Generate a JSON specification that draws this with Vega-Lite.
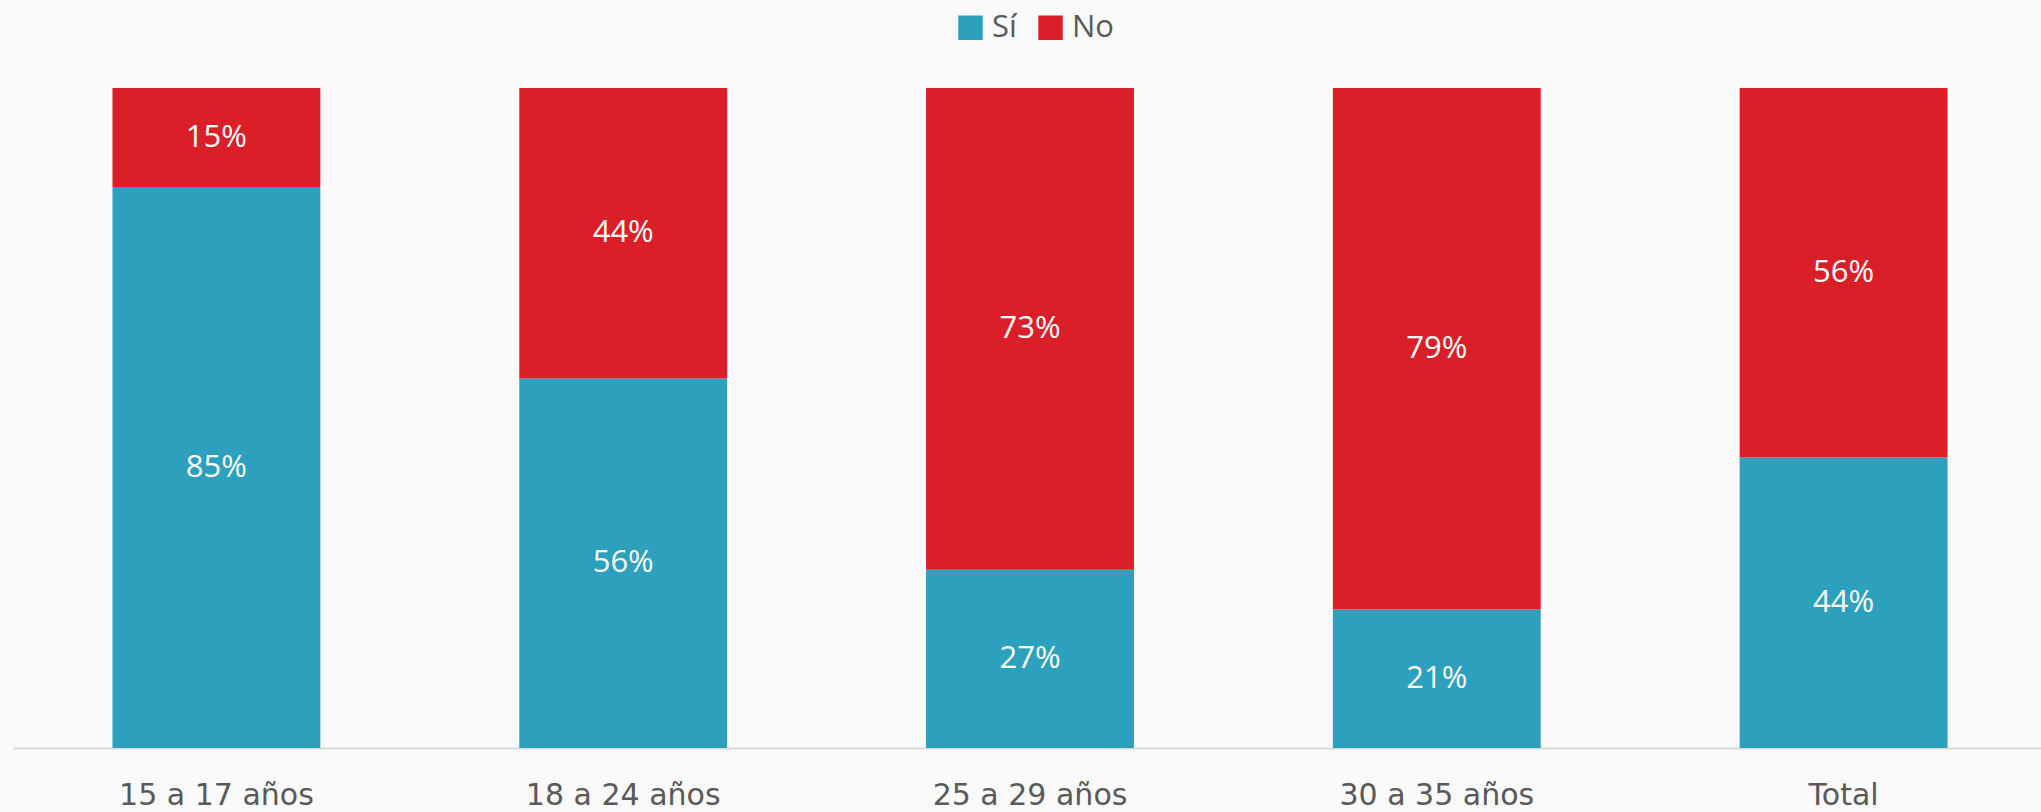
{
  "$schema": "https://vega.github.io/schema/vega-lite/v6.json",
  "width": 2034,
  "height": 660,
  "autosize": "none",
  "padding": {"left": 13, "top": 88, "right": 0, "bottom": 64},
  "background": "#fafafa",
  "config": {"view": {"stroke": null}, "font": "Open Sans"},
  "data": {
    "values": [
      {"category": "15 a 17 años", "answer": "Sí", "value": 85},
      {"category": "15 a 17 años", "answer": "No", "value": 15},
      {"category": "18 a 24 años", "answer": "Sí", "value": 56},
      {"category": "18 a 24 años", "answer": "No", "value": 44},
      {"category": "25 a 29 años", "answer": "Sí", "value": 27},
      {"category": "25 a 29 años", "answer": "No", "value": 73},
      {"category": "30 a 35 años", "answer": "Sí", "value": 21},
      {"category": "30 a 35 años", "answer": "No", "value": 79},
      {"category": "Total", "answer": "Sí", "value": 44},
      {"category": "Total", "answer": "No", "value": 56}
    ]
  },
  "transform": [
    {"stack": "value", "groupby": ["category"], "sort": [{"field": "answer", "order": "descending"}], "as": ["v0", "v1"]},
    {"calculate": "(datum.v0 + datum.v1) / 2", "as": "mid"},
    {"calculate": "datum.value + '%'", "as": "label"}
  ],
  "encoding": {
    "x": {
      "field": "category",
      "type": "nominal",
      "sort": null,
      "scale": {"paddingInner": 0.489, "paddingOuter": 0.2445},
      "axis": {
        "title": null,
        "labelAngle": 0,
        "ticks": false,
        "tickSize": 0,
        "labelPadding": 32,
        "labelFontSize": 30,
        "labelLimit": 0,
        "labelColor": "#595959",
        "labelFont": "DejaVu Sans",
        "domainColor": "#d9d9d9",
        "domainWidth": 2
      }
    }
  },
  "layer": [
    {
      "mark": {"type": "bar"},
      "encoding": {
        "y": {"field": "v0", "type": "quantitative", "scale": {"domain": [0, 100]}, "axis": null},
        "y2": {"field": "v1"},
        "color": {
          "field": "answer",
          "type": "nominal",
          "scale": {"domain": ["Sí", "No"], "range": ["#2ca0bd", "#da1f28"]},
          "legend": {
            "title": null,
            "orient": "none",
            "direction": "horizontal",
            "legendX": 942,
            "legendY": -76,
            "symbolType": "square",
            "symbolSize": 600,
            "symbolStrokeWidth": 0,
            "symbolOpacity": 1,
            "labelFontSize": 31,
            "labelColor": "#595959",
            "labelFont": "Open Sans",
            "labelOffset": 6,
            "columnPadding": 18
          }
        }
      }
    },
    {
      "mark": {"type": "text", "color": "white", "fontSize": 31, "font": "Open Sans"},
      "encoding": {
        "y": {"field": "mid", "type": "quantitative"},
        "text": {"field": "label"}
      }
    }
  ]
}
